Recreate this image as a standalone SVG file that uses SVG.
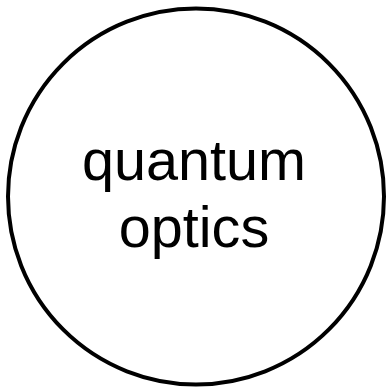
<svg xmlns="http://www.w3.org/2000/svg" width="390" height="390" viewBox="0 0 390 390">
<style>
.node circle{fill:#fff;stroke:#000;stroke-width:4}
.label{font-family:"Liberation Sans",Arial,sans-serif;font-size:57.6px;fill:#000;text-anchor:middle}
</style>
<rect width="390" height="390" fill="#fff"/>
<g id="connectors"></g>
<g id="node-quantum-optics" class="node">
<circle cx="196" cy="196.5" r="188"/>
<text class="label" x="194" y="180">quantum</text>
<text class="label" x="194" y="247">optics</text>
</g>
</svg>
